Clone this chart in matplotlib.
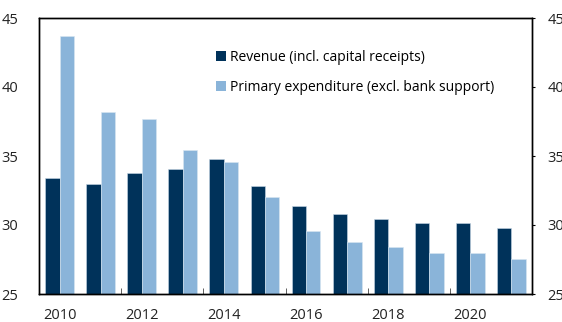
import numpy as np
import matplotlib.pyplot as plt
from matplotlib.patches import Patch

plt.rcParams['font.family'] = ['Open Sans', 'DejaVu Sans']

years = [2010, 2011, 2012, 2013, 2014, 2015, 2016, 2017, 2018, 2019, 2020, 2021]
revenue = [33.4, 33.0, 33.8, 34.05, 34.75, 32.85, 31.37, 30.79, 30.47, 30.16, 30.16, 29.8]
expenditure = [43.7, 38.2, 37.7, 35.45, 34.6, 32.02, 29.53, 28.75, 28.37, 28.0, 28.0, 27.52]
labels = ['Revenue (incl. capital receipts)', 'Primary expenditure (excl. bank support)']
year_labels = [2010, 2012, 2014, 2016, 2018, 2020]
boundaries = [2011.5, 2013.5, 2015.5, 2017.5, 2019.5]

dark = '#00325a'
light = '#8ab4d9'

fig = plt.figure(figsize=(5.62, 3.22), dpi=100)
ax = fig.add_axes([39 / 562, 1 - 294 / 322, (532 - 39) / 562, (294 - 18) / 322])

x = np.array(years)
w = 0.35
ax.bar(x - w / 2, revenue, w, color=dark, edgecolor='#c8d8e6', linewidth=0.4)
ax.bar(x + w / 2, expenditure, w, color=light, edgecolor='#d8e6f2', linewidth=0.4)

ax.set_xlim(2009.5, 2021.5)
ax.set_ylim(25, 45)
ax.set_yticks([25, 30, 35, 40, 45])
ax.tick_params(axis='y', which='both', left=False, length=0, pad=15, labelsize=10.5, colors='#222222')

ax.set_xticks(year_labels)
ax.tick_params(axis='x', which='major', length=0, pad=10, labelsize=10.5, colors='#222222')
ax.set_xticks(boundaries, minor=True)
ax.tick_params(axis='x', which='minor', direction='in', length=4, width=0.6, color='#444444')

ax2 = ax.twinx()
ax2.set_ylim(25, 45)
ax2.set_yticks([25, 30, 35, 40, 45])
ax2.tick_params(axis='y', direction='out', length=2, width=0.8, pad=9, labelsize=10.5, colors='#222222')
ax2.tick_params(axis='y', color='black')

for a in (ax, ax2):
    for s in a.spines.values():
        s.set_linewidth(1.0)
        s.set_color('black')

handles = [Patch(facecolor=dark), Patch(facecolor=light)]
ax.legend(handles, labels, loc='upper left', bbox_to_anchor=(0.347, 0.905), frameon=False,
          fontsize=10, handlelength=0.75, handleheight=0.75, handletextpad=0.3,
          labelspacing=1.1, borderaxespad=0)

fig.savefig('out.png', dpi=100)
